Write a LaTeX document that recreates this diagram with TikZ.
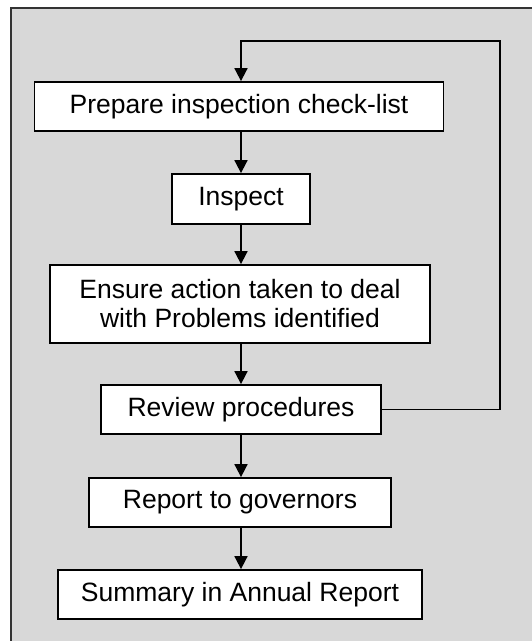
\documentclass[tikz,border=0pt]{standalone}
\usepackage{fontspec}
\setmainfont{Liberation Sans}
\usetikzlibrary{arrows.meta}

\begin{document}
\begin{tikzpicture}[x=1pt, y=-1pt,
    box/.style={draw=black, line width=1.8pt, fill=white, inner sep=0pt,
      font=\fontsize{26.5}{29}\selectfont, align=center},
    arr/.style={line width=1.8pt, -{Triangle[length=13pt, width=13pt]}}]
  \useasboundingbox (0,0) rectangle (532,641);
  % panel
  \fill[white] (0,0) rectangle (532,641);
  \fill[fill={rgb,255:red,216;green,216;blue,216}] (11,8) rectangle (540,650);
  \draw[line width=2pt, black!80] (11,650) -- (11,8) -- (540,8);
  % steps
  \node[box, minimum width=409pt, minimum height=49pt] (prep) at (239,106.5)
    {Prepare inspection check-list};
  \node[box, minimum width=138pt, minimum height=50pt] (insp) at (241,199)
    {Inspect};
  \node[box, minimum width=380pt, minimum height=78pt] (ensure) at (240,304)
    {Ensure action taken to deal\\with Problems identified};
  \node[box, minimum width=280pt, minimum height=49pt] (review) at (241,409.5)
    {Review procedures};
  \node[box, minimum width=302pt, minimum height=49pt] (report) at (240,502.5)
    {Report to governors};
  \node[box, minimum width=364pt, minimum height=49pt] (summary) at (240,594.5)
    {Summary in Annual Report};
  % flow
  \draw[arr] (prep.south -| insp) -- (insp.north);
  \draw[arr] (insp.south) -- (ensure.north -| insp);
  \draw[arr] (ensure.south -| insp) -- (review.north);
  \draw[arr] (review.south) -- (report.north -| review);
  \draw[arr] (report.south -| review) -- (summary.north -| review);
  % loop back
  \coordinate (back) at (500,41);
  \draw[arr] (review.east) -| (back) -| (prep.north -| insp);
\end{tikzpicture}
\end{document}
